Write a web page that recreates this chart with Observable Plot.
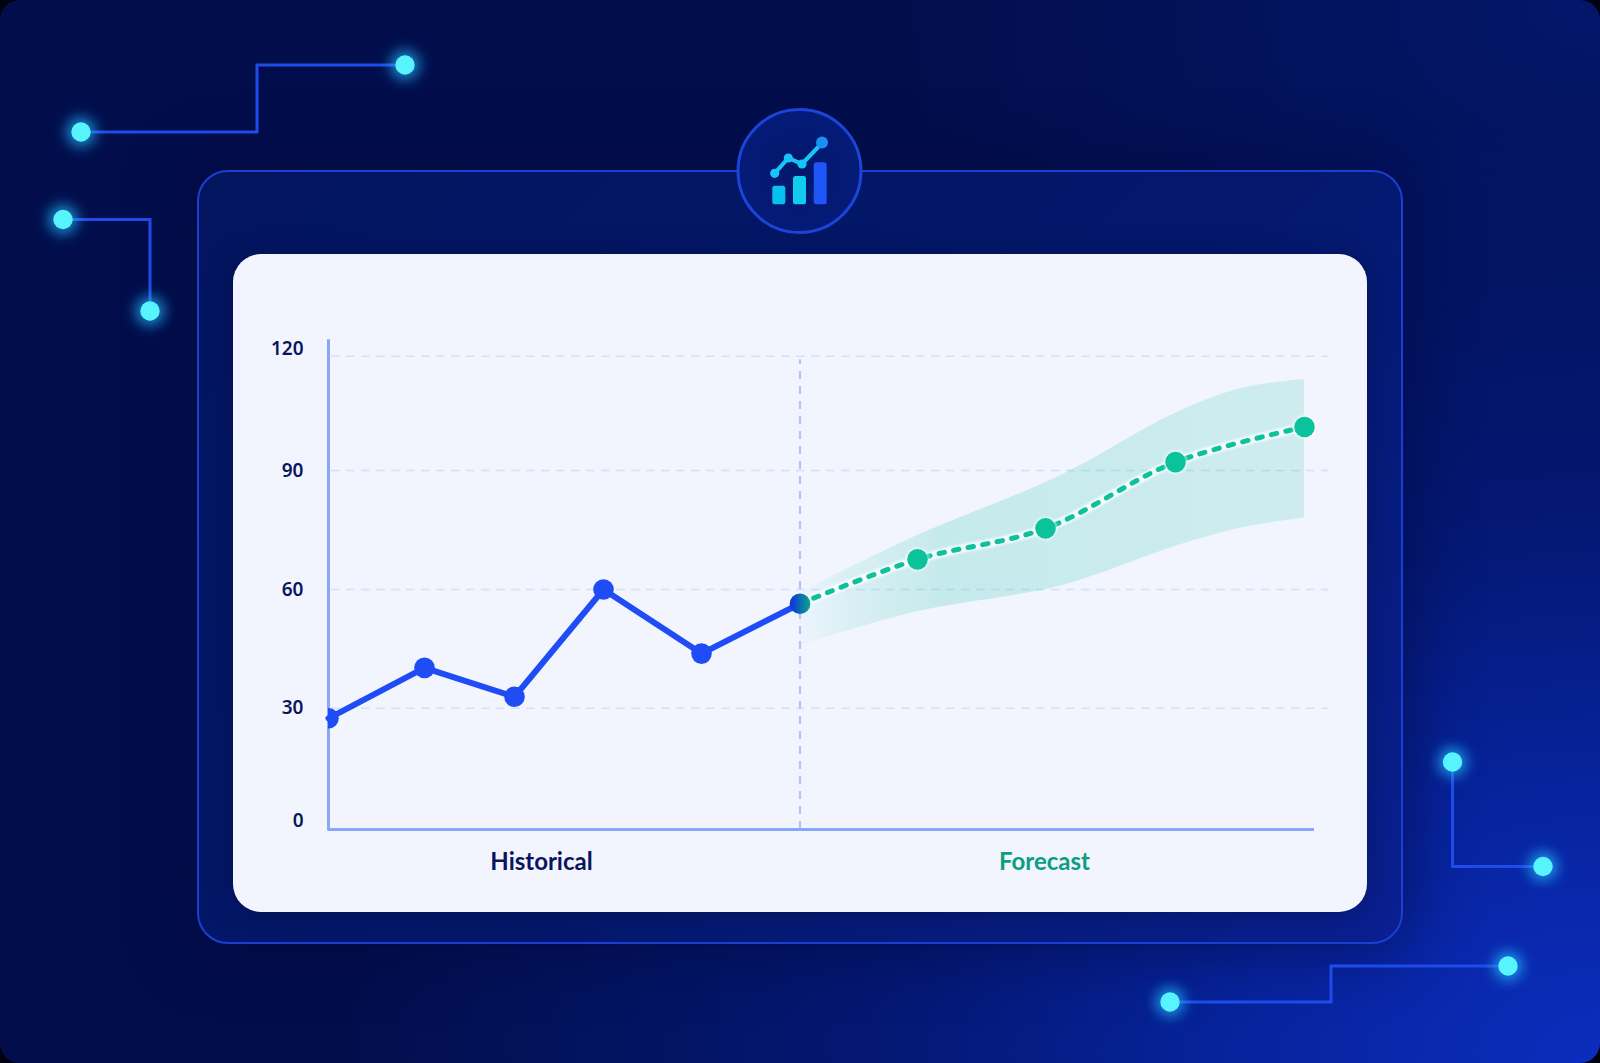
<!DOCTYPE html>
<html>
<head>
<meta charset="utf-8">
<script src="https://cdn.jsdelivr.net/npm/d3@7"></script>
<script src="https://cdn.jsdelivr.net/npm/@observablehq/plot@0.6"></script>
<style>
  html, body { margin: 0; padding: 0; background: #01020f; }
  #page { position: relative; width: 1600px; height: 1063px; overflow: hidden; border-radius: 20px;
    background:
      radial-gradient(ellipse 1250px 950px at 100% 100%, #0b2dbd 0%, #07239c 30%, rgba(4,26,125,.85) 55%, rgba(2,14,72,0) 100%),
      radial-gradient(ellipse 700px 500px at 100% 0%, #03166a 0%, rgba(2,14,72,0) 100%),
      #020e4c; }
  #panel { position: absolute; left: 197px; top: 170px; width: 1202px; height: 770px; border: 2px solid #1b3fd2; border-radius: 31px;
    background: linear-gradient(135deg, #03155f 0%, #03186c 55%, #0a2092 100%);
    box-shadow: 0 0 60px 10px rgba(1, 8, 60, .5); }
  #card { position: absolute; left: 233px; top: 254px; width: 1134px; height: 658px; border-radius: 28px;
    background: #f2f5fe; box-shadow: 0 4px 30px rgba(1, 8, 50, .35); }
  #decor { position: absolute; left: 0; top: 0; }
  #chart { position: absolute; left: 0; top: 0; }
</style>
</head>
<body>
<div id="page">
  <div id="panel"></div>
  <div id="card"></div>
  <svg id="decor" width="1600" height="1063" viewBox="0 0 1600 1063" xmlns="http://www.w3.org/2000/svg">
    <defs>
      <linearGradient id="bandFade" x1="0" x2="1" y1="0" y2="0">
        <stop offset="0" stop-color="#12bfa0" stop-opacity="0.02"/>
        <stop offset="0.1" stop-color="#12bfa0" stop-opacity="0.11"/>
        <stop offset="0.28" stop-color="#12bfa0" stop-opacity="0.2"/>
        <stop offset="1" stop-color="#12bfa0" stop-opacity="0.16"/>
      </linearGradient>
      <linearGradient id="joinFill" x1="0" x2="1" y1="0" y2="0">
        <stop offset="0.1" stop-color="#0b3ad6"/>
        <stop offset="0.9" stop-color="#0b9c90"/>
      </linearGradient>
      <radialGradient id="badge" cx="0.5" cy="0.5" r="0.5">
        <stop offset="0" stop-color="#03176a"/>
        <stop offset="1" stop-color="#041b78"/>
      </radialGradient>
      <filter id="glow" x="-150%" y="-150%" width="400%" height="400%">
        <feGaussianBlur stdDeviation="7"/>
      </filter>
    </defs>
    <g fill="none" stroke="#1f4bea" stroke-width="3">
      <path d="M81 132H257V65H405"/>
      <path d="M63 219.5H150V311"/>
      <path d="M1452.5 762V866.5H1543"/>
      <path d="M1170 1002H1331V966H1508"/>
    </g>
    <g id="nodes"></g>
    <circle cx="799.5" cy="171" r="61.5" fill="url(#badge)" stroke="#1c45d8" stroke-width="3"/>
    <rect x="772.3" y="185.7" width="13" height="18.5" rx="2.5" fill="#06c0ee"/>
    <rect x="793" y="176" width="13" height="28.2" rx="2.5" fill="#10cdf0"/>
    <rect x="813.7" y="162.3" width="13" height="41.9" rx="2.5" fill="#1d55f8"/>
    <path d="M774.7 173.3L788.3 158L802 164L822 143" fill="none" stroke="#18c4f6" stroke-width="4"/>
    <circle cx="774.7" cy="173.3" r="4.6" fill="#18c4f6"/>
    <circle cx="788.3" cy="158" r="4.6" fill="#18c4f6"/>
    <circle cx="802" cy="164" r="4.6" fill="#18c4f6"/>
    <circle cx="822" cy="142.5" r="6" fill="#1b8ff2"/>
  </svg>
  <div id="chart"></div>
</div>
<script>
// Chart values
const yTicks = [0, 30, 60, 90, 120];
const historicalX = [0, 9.6, 18.6, 27.5, 37.3, 47.15];
const historicalY = [27.5, 40.2, 32.9, 60, 43.8, 56.4];
const forecastX = [47.15, 58.9, 71.7, 84.7, 97.6];
const forecastY = [56.4, 67.6, 75.4, 92.2, 101.4];
const bandX = [47.15, 58.74, 73.2, 84.6, 91.3, 97.6];
const bandUpper = [59.2, 73.4, 88.7, 104.9, 111.5, 113.9];
const bandLower = [45.8, 54.3, 60.9, 70.8, 75.5, 78];
const phaseLabels = ["Historical", "Forecast"];
const phaseX = [21.3, 71.6];
const axisTop = 123.9;
const axisRight = 98.6;
const gridRight = 100;
const dividerTop = 119.1;

// Decorative circuit nodes (not chart data)
const nodes = [[81,132],[405,65],[63,219.5],[150,311],[1452.5,762],[1543,866.5],[1170,1002],[1508,966]];
const gNodes = d3.select("#nodes");
nodes.forEach(([cx, cy]) => {
  gNodes.append("circle").attr("cx", cx).attr("cy", cy).attr("r", 14).attr("fill", "#20b8ff").attr("opacity", .8).attr("filter", "url(#glow)");
  gNodes.append("circle").attr("cx", cx).attr("cy", cy).attr("r", 9.7).attr("fill", "#58f4fd");
});

const ink = "#0a1560";
const tickStyle = {fontFamily: "'Noto Sans'", fontWeight: 600, fontSize: 19, fill: ink, tickSize: 0, tickPadding: 25, label: null, anchor: "left"};

const chart = Plot.plot({
  width: 1600,
  height: 1063,
  marginLeft: 328,
  marginRight: 272,
  marginTop: 0,
  marginBottom: 0,
  style: {background: "transparent", display: "block"},
  x: {type: "linear", domain: [0, 100], range: [328, 1328], axis: null},
  y: {type: "linear", domain: yTicks, range: [829, 707.7, 589, 470, 355.7], axis: null},
  marks: [
    Plot.ruleY(yTicks.slice(1), {x1: 0.3, x2: gridRight, stroke: "#d3dffd", strokeWidth: 1.6, strokeDasharray: "8.5 6.5"}),
    Plot.areaY(bandX, {x: bandX, y1: bandLower, y2: bandUpper, fill: "url(#bandFade)", curve: "catmull-rom"}),
    Plot.ruleX([47.15], {y1: 0, y2: dividerTop, stroke: "#b0c4fb", strokeWidth: 2.2, strokeDasharray: "8 7"}),
    Plot.ruleX([0], {y1: 0, y2: axisTop, stroke: "#8aa6f8", strokeWidth: 3, strokeLinecap: "square"}),
    Plot.ruleY([0], {x1: 0, x2: axisRight, stroke: "#8aa6f8", strokeWidth: 3}),
    Plot.axisY([30, 60, 90], tickStyle),
    Plot.axisY([0], {...tickStyle, dy: -8.5}),
    Plot.axisY([120], {...tickStyle, dy: -7}),
    Plot.line(historicalY, {x: historicalX, y: historicalY, stroke: "#1f4cf5", strokeWidth: 6, strokeLinejoin: "round"}),
    Plot.line(forecastY, {x: forecastX, y: forecastY, stroke: "#ffffff", strokeWidth: 8.5, strokeOpacity: .8, curve: "catmull-rom", imageFilter: "blur(1.2px)"}),
    Plot.line(forecastY, {x: forecastX, y: forecastY, stroke: "#0fc09c", strokeWidth: 5, strokeDasharray: "5.5 9.3", curve: "catmull-rom"}),
    Plot.dot(historicalY.slice(0, 5), {x: historicalX.slice(0, 5), y: historicalY.slice(0, 5), r: 10.3, fill: "#1f4cf5", clip: "frame"}),
    Plot.dot(forecastY.slice(1), {x: forecastX.slice(1), y: forecastY.slice(1), r: 11.5, fill: "#ffffff", fillOpacity: .7, imageFilter: "blur(1.5px)"}),
    Plot.dot(forecastY.slice(1), {x: forecastX.slice(1), y: forecastY.slice(1), r: 10.3, fill: "#0ac29c"}),
    Plot.dot([forecastY[0]], {x: [forecastX[0]], y: [forecastY[0]], r: 10.3, fill: "url(#joinFill)"}),
    Plot.text(phaseLabels, {x: phaseX, y: [0, 0], dy: 33, text: d => d, fontFamily: "Lato", fontWeight: 700, fontSize: 24, fill: [ink, "#0b9e82"]})
  ]
});
document.getElementById("chart").append(chart);
</script>
</body>
</html>
